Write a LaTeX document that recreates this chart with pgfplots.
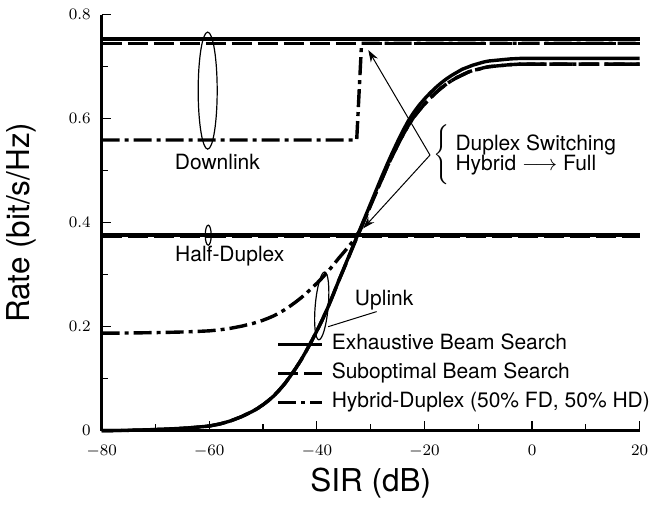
\documentclass[border=0pt]{standalone}
\usepackage{pgfplots}
\pgfplotsset{compat=1.18}
\usepackage{pgfplotstable}
\usepackage{fontspec}
\setmainfont{TeX Gyre Heros}
\usetikzlibrary{arrows.meta}

% downlink (full duplex) and half duplex levels
\pgfplotstableread{
x y
-80 0.753
20 0.753
}\exhDL
\pgfplotstableread{
x y
-80 0.745
20 0.745
}\subDL
\pgfplotstableread{
x y
-80 0.559
-32.6 0.559
-31.7 0.745
20 0.745
}\hybDL
\pgfplotstableread{
x y
-80 0.376
20 0.376
}\exhHD
\pgfplotstableread{
x y
-80 0.374
20 0.374
}\subHD

% uplink, full duplex
\pgfplotstableread{
x y
-80 0.000
-76 0.0005
-72 0.0015
-68 0.003
-64 0.0052
-62 0.007
-60 0.009
-59 0.011
-58 0.013
-57 0.016
-56 0.019
-55 0.023
-54 0.027
-53 0.032
-52 0.037
-51 0.043
-50 0.050
-49 0.058
-48 0.067
-47 0.078
-46 0.090
-45 0.104
-44 0.119
-43 0.135
-42 0.153
-41 0.172
-40 0.192
-39 0.213
-38 0.236
-37 0.261
-36 0.287
-35 0.312
-34 0.337
-33 0.362
-32 0.387
-31 0.412
-30 0.437
-29 0.462
-28 0.487
-27 0.511
-26 0.534
-25 0.556
-24 0.577
-23 0.596
-22 0.612
-21 0.626
-20 0.638
-19 0.649
-18 0.659
-17 0.668
-16 0.676
-15 0.683
-14 0.689
-13 0.695
-12 0.699
-11 0.703
-10 0.706
-9 0.709
-8 0.711
-7 0.712
-6 0.713
-5 0.714
-4 0.715
-2 0.716
0 0.716
5 0.716
10 0.716
20 0.716
}\exhUL
\pgfplotstableread{
x y
-80 0.000
-76 0.0005
-72 0.0015
-68 0.003
-64 0.0052
-62 0.007
-60 0.009
-59 0.011
-58 0.013
-57 0.016
-56 0.019
-55 0.023
-54 0.027
-53 0.032
-52 0.037
-51 0.043
-50 0.050
-49 0.058
-48 0.067
-47 0.078
-46 0.090
-45 0.104
-44 0.119
-43 0.135
-42 0.153
-41 0.172
-40 0.192
-39 0.213
-38 0.236
-37 0.261
-36 0.287
-35 0.311
-34 0.336
-33 0.361
-32 0.385
-31 0.409
-30 0.434
-29 0.458
-28 0.482
-27 0.506
-26 0.528
-25 0.549
-24 0.569
-23 0.587
-22 0.603
-21 0.616
-20 0.628
-19 0.639
-18 0.649
-17 0.658
-16 0.666
-15 0.673
-14 0.679
-13 0.684
-12 0.689
-11 0.693
-10 0.695
-9 0.698
-8 0.700
-7 0.701
-6 0.702
-5 0.703
-4 0.704
-2 0.705
0 0.705
20 0.705
}\subUL
\pgfplotstableread{
x y
-80 0.1875
-76 0.1878
-72 0.1883
-68 0.189
-64 0.1901
-62 0.191
-60 0.192
-59 0.193
-58 0.194
-57 0.1955
-56 0.197
-55 0.199
-54 0.201
-53 0.2035
-52 0.206
-51 0.209
-50 0.2125
-49 0.2165
-48 0.221
-47 0.2265
-46 0.2325
-45 0.2395
-44 0.247
-43 0.255
-42 0.264
-41 0.2735
-40 0.2835
-39 0.294
-38 0.3055
-37 0.318
-36 0.331
-35 0.343
-34 0.3555
-33 0.368
-32.6 0.376
-32 0.385
-31 0.409
-30 0.434
-29 0.458
-28 0.482
-27 0.506
-26 0.528
-25 0.549
-24 0.569
-23 0.587
-22 0.603
-21 0.616
-20 0.628
-19 0.639
-18 0.649
-17 0.658
-16 0.666
-15 0.673
-14 0.679
-13 0.684
-12 0.689
-11 0.693
-10 0.695
-9 0.698
-8 0.700
-7 0.701
-6 0.702
-5 0.703
-4 0.704
-2 0.705
0 0.705
20 0.705
}\hybUL

\tikzset{
  exh/.style={black, line width=1.7pt, solid},
  sub/.style={black, line width=1.7pt, dash pattern=on 10pt off 3pt},
  hyb/.style={black, line width=1.7pt, dash pattern=on 9pt off 2.5pt on 2pt off 2.5pt},
}

\newcommand{\dupl}{\vbox{\baselineskip=9.8pt\lineskiplimit=-20pt\hbox{Duplex Switching}\hbox{Hybrid $\longrightarrow$ Full}}}

\begin{document}
\begin{tikzpicture}
\begin{axis}[
  scale only axis, width=269pt, height=208pt,
  xmin=-80, xmax=20, ymin=0, ymax=0.8,
  axis lines*=left, axis line style={line width=1.2pt},
  tick pos=left, tick align=inside,
  xtick={-80,-60,...,20}, minor xtick={-70,-50,...,10},
  ytick={0,0.2,0.4,0.6,0.8}, minor ytick={0.1,0.3,0.5,0.7},
  major tick length=4.8pt, minor tick length=3.2pt,
  every tick/.append style={black, line width=0.6pt},
  tick label style={font=\fontsize{8.5}{10}\selectfont},
  xticklabel style={yshift=-3.5pt}, yticklabel style={xshift=-2pt},
  xlabel={SIR (dB)}, ylabel={Rate (bit/s/Hz)},
  label style={font=\fontsize{15.75}{18}\selectfont},
  x label style={at={(axis description cs:0.5,-0.125)}, anchor=center},
  y label style={at={(axis description cs:-0.149,0.5)}, anchor=center},
  clip=false,
  legend cell align=left,
  legend image code/.code={\draw[#1] (0pt,0pt) -- (22pt,0pt);},
  legend style={draw=none, fill=none, at={(axis description cs:0.324,0.232)}, anchor=north west,
    font=\fontsize{10.5}{12}\selectfont, row sep=4.5pt, inner sep=0pt,
    nodes={inner sep=0pt, text height=7.5pt, text depth=2.5pt},
    /tikz/every odd column/.append style={column sep=4pt}},
]
\addplot[exh] table {\exhDL};
\addlegendentry{Exhaustive Beam Search}
\addplot[sub] table {\subDL};
\addlegendentry{Suboptimal Beam Search}
\addplot[hyb] table {\hybDL};
\addlegendentry{Hybrid-Duplex (50\% FD, 50\% HD)}
\addplot[exh, forget plot] table {\exhHD};
\addplot[sub, forget plot] table {\subHD};
\addplot[exh, forget plot] table {\exhUL};
\addplot[sub, forget plot] table {\subUL};
\addplot[hyb, forget plot] table {\hybUL};

% annotations
\draw[line width=0.6pt] (axis cs:-60.3,0.654) ellipse [x radius=4.75pt, y radius=29.25pt];
\node[font=\fontsize{10.5}{12}\selectfont] at (axis cs:-58.5,0.517) {Downlink};
\draw[line width=0.6pt] (axis cs:-60.2,0.376) ellipse [x radius=1.5pt, y radius=5pt];
\node[font=\fontsize{10.5}{12}\selectfont] at (axis cs:-56.2,0.335) {Half-Duplex};
\draw[line width=0.6pt, rotate around={-5:(axis cs:-39.1,0.240)}] (axis cs:-39.1,0.240) ellipse [x radius=3.25pt, y radius=17pt];
\draw[line width=0.5pt] (axis cs:-37.9,0.2) -- (axis cs:-28.9,0.229);
\node[font=\fontsize{10.5}{12}\selectfont] at (axis cs:-27.5,0.251) {Uplink};
\draw[line width=0.5pt, -{Stealth[length=6pt,width=4pt]}] (axis cs:-18.98,0.53) -- (axis cs:-30.45,0.732);
\draw[line width=0.5pt, -{Stealth[length=6pt,width=4pt]}] (axis cs:-18.98,0.53) -- (axis cs:-31.4,0.389);
\node[anchor=west, inner sep=0pt, font=\fontsize{10.5}{12}\selectfont] at (axis cs:-18.42,0.53)
  {$\left\{\vcenter{\hbox{\rule[-14pt]{0pt}{28pt}}}\vcenter{\hbox{\kern3pt\dupl}}\right.$};
\end{axis}
\pgfresetboundingbox
\path (-50.85pt,-37.65pt) rectangle (273.65pt,215.35pt);
\end{tikzpicture}
\end{document}
